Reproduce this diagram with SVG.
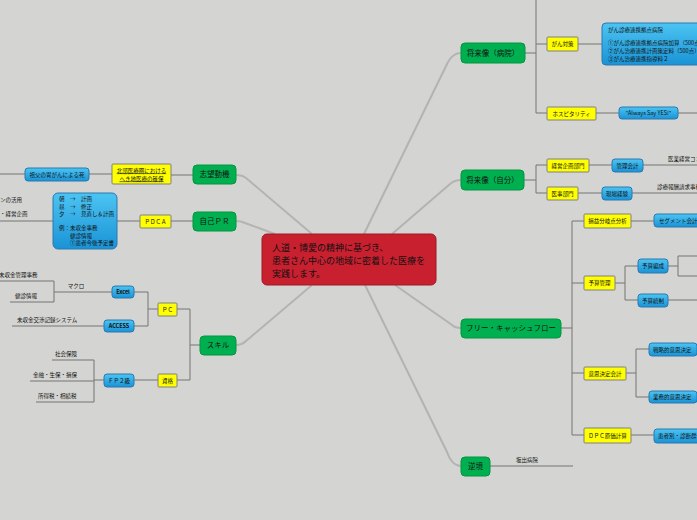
<svg xmlns="http://www.w3.org/2000/svg" width="697" height="520" viewBox="0 0 697 520">
<defs>
<linearGradient id="bg" x1="0" y1="0" x2="0" y2="1"><stop offset="0" stop-color="#4cc4f2"/><stop offset="1" stop-color="#1a93d6"/></linearGradient>
<style>
text{font-family:"Noto Sans CJK JP","Noto Sans",sans-serif;fill:#111}
.main{fill:#00b050;stroke:#00963f;stroke-width:1}
.mt{font-size:7.5px;text-anchor:middle}
.yel{fill:#ffff00;stroke:#808080;stroke-width:1}
.blue{fill:url(#bg);stroke:#2b78b0;stroke-width:1}
.s{font-size:5.5px}
.c{text-anchor:middle}
.mainline{fill:none;stroke:#b3b3b3;stroke-width:2}
.br{fill:none;stroke:#747474;stroke-width:1}
</style>
</defs>
<rect width="697" height="520" fill="#d4d5d2"/>
<g id="connectors">
<path class="mainline" d="M364,234 L448,62 Q453,53 461,53"/>
<path class="mainline" d="M392,234 L450,184 Q455,180 461,180"/>
<path class="mainline" d="M395,285 L452,325 Q455,328 461,328"/>
<path class="mainline" d="M365,285 L447,452 Q452,466 461,466"/>
<path class="mainline" d="M312,234 L246,178 Q242,175 236,175"/>
<path class="mainline" d="M275,234 L245,223 Q241,221 236,221"/>
<path class="mainline" d="M312,285 L246,341 Q242,345 236,345"/>
<path class="br" d="M525,53 H536 M536,0 V113 M536,44 H547 M536,113 H547 M578,44 H602 M596,113 H619 M678,113 H697"/>
<path class="br" d="M524,180 H536 M536,165 V193 M536,165 H547 M536,193 H547 M589,165 H612 M578,193 H602 M643,165 H697 M632,193 H697"/>
<path class="br" d="M561,328 H572 M572,221 V435 M572,221 H584 M572,283 H584 M572,373 H584 M572,435 H584 M631,221 H654 M615,283 H625 M625,266 V300 M625,266 H638 M625,300 H638 M668,266 H678 M678,256 V276 M678,256 H697 M678,276 H697 M668,300 H697 M626,373 H636 M636,349 V397 M636,349 H649 M636,397 H649 M631,435 H654"/>
<path class="br" d="M490,466 H573"/>
<path class="br" d="M193,175 H171 M112,174 H89 M25,174 H0"/>
<path class="br" d="M193,221 H171 M140,221 H117 M53,221 H0"/>
<path class="br" d="M200,345 H190 M190,309 V380 M190,309 H177 M190,380 H177 M158,309 H148 M148,292 V326 M148,292 H134 M148,326 H134 M112,292 H54 M54,281 V302 M54,281 H0 M54,302 H10 M104,326 H12 M158,380 H134 M104,380 H94 M94,360 V402 M94,360 H52 M94,381 H30 M94,402 H36"/>
</g>
<g id="center">
<rect x="262" y="234" width="174" height="51" rx="5" fill="#c8202f" stroke="#9e1a26"/>
<text x="272" y="251" style="font-size:9px">人道・博愛の精神に基づき、</text>
<text x="272" y="264" style="font-size:9px">患者さん中心の地域に密着した医療を</text>
<text x="272" y="277" style="font-size:9px">実践します。</text>
</g>
<g id="n-byoin"><rect class="main" x="461" y="43" width="64" height="20" rx="4"/><text class="mt" x="493" y="55.7">将来像（病院）</text></g>
<g id="n-jibun"><rect class="main" x="461" y="170" width="63" height="20" rx="4"/><text class="mt" x="492.5" y="182.7">将来像（自分）</text></g>
<g id="n-fcf"><rect class="main" x="461" y="319" width="100" height="19" rx="4"/><text class="mt" x="511" y="331.2">フリー・キャッシュフロー</text></g>
<g id="n-gyakkyo"><rect class="main" x="461" y="457" width="29" height="19" rx="4"/><text class="mt" x="475.5" y="469.2">逆境</text></g>
<g id="n-shibo"><rect class="main" x="193" y="165" width="43" height="19" rx="4"/><text class="mt" x="214.5" y="177.2">志望動機</text></g>
<g id="n-pr"><rect class="main" x="193" y="212" width="43" height="19" rx="4"/><text class="mt" x="214.5" y="224.2">自己ＰＲ</text></g>
<g id="n-skill"><rect class="main" x="200" y="336" width="36" height="19" rx="4"/><text class="mt" x="218" y="348.2">スキル</text></g>

<g id="n-gan"><rect class="yel" x="547" y="37" width="31" height="14" rx="1"/><text class="s c" x="562.5" y="46">がん対策</text></g>
<g id="n-gan-b"><rect class="blue" x="602" y="23" width="100" height="42" rx="4"/>
<text class="s" x="608" y="32">がん診療連携拠点病院</text>
<text class="s" x="608" y="45">①がん診療連携拠点病院加算（500点）</text>
<text class="s" x="608" y="53">②がん治療連携計画策定料（500点）</text>
<text class="s" x="608" y="61">③がん治療連携指導料２</text></g>
<g id="n-hosp"><rect class="yel" x="547" y="107" width="49" height="13" rx="1"/><text class="s c" x="571.5" y="115.5">ホスピタリティ</text></g>
<g id="n-always"><rect class="blue" x="619" y="107" width="59" height="12" rx="3"/><text class="s c" x="648.5" y="115">"Always Say YES!"</text></g>

<g id="n-keiei"><rect class="yel" x="547" y="159" width="42" height="13" rx="1"/><text class="s c" x="568" y="167.5">経営企画部門</text></g>
<g id="n-iji"><rect class="yel" x="547" y="187" width="31" height="13" rx="1"/><text class="s c" x="562.5" y="195.5">医事部門</text></g>
<g id="n-kanri"><rect class="blue" x="612" y="159" width="31" height="13" rx="3"/><text class="s c" x="627.5" y="167.5">管理会計</text></g>
<g id="n-genba"><rect class="blue" x="602" y="187" width="30" height="13" rx="3"/><text class="s c" x="617" y="195.5">現場経験</text></g>
<g id="n-consul"><text class="s" x="668" y="161">医業経営コンサルタント</text></g>
<g id="n-seikyu"><text class="s" x="657" y="189">診療報酬請求事務</text></g>

<g id="n-bep"><rect class="yel" x="584" y="214" width="47" height="14" rx="1"/><text class="s c" x="607.5" y="223">損益分岐点分析</text></g>
<g id="n-seg"><rect class="blue" x="654" y="214" width="56" height="13" rx="3"/><text class="s" x="659" y="222.5">セグメント会計</text></g>
<g id="n-yosan"><rect class="yel" x="584" y="276" width="31" height="14" rx="1"/><text class="s c" x="599.5" y="285">予算管理</text></g>
<g id="n-hensei"><rect class="blue" x="638" y="259" width="30" height="14" rx="3"/><text class="s c" x="653" y="268">予算編成</text></g>
<g id="n-tosei"><rect class="blue" x="638" y="294" width="30" height="13" rx="3"/><text class="s c" x="653" y="302.5">予算統制</text></g>
<g id="n-ishi"><rect class="yel" x="584" y="367" width="42" height="13" rx="1"/><text class="s c" x="605" y="375.5">意思決定会計</text></g>
<g id="n-senryaku"><rect class="blue" x="649" y="343" width="48" height="13" rx="3"/><text class="s" x="653" y="351.5">戦略的意思決定</text></g>
<g id="n-gyomu"><rect class="blue" x="649" y="391" width="48" height="12" rx="3"/><text class="s" x="653" y="399">業務的意思決定</text></g>
<g id="n-dpc"><rect class="yel" x="584" y="428" width="47" height="15" rx="1"/><text class="s c" x="607.5" y="437.5">ＤＰＣ原価計算</text></g>
<g id="n-kanja"><rect class="blue" x="654" y="429" width="56" height="14" rx="3"/><text class="s" x="658" y="438">患者別・診断群分類別</text></g>
<g id="n-sakaide"><text class="s c" x="527" y="462">坂出病院</text></g>

<g id="n-hokubu"><rect class="yel" x="112" y="164" width="59" height="20" rx="1"/>
<text class="s c" x="141.5" y="172.5" text-decoration="underline">北部医療圏における</text>
<text class="s c" x="141.5" y="180.5" text-decoration="underline">へき地医療の確保</text></g>
<g id="n-sofu"><rect class="blue" x="25" y="168" width="64" height="13" rx="3"/><text class="s c" x="57" y="176.5">祖父の胃がんによる死</text></g>

<g id="n-pdca"><rect class="yel" x="140" y="215" width="31" height="13" rx="1"/><text class="s c" x="155.5" y="223.5">ＰＤＣＡ</text></g>
<g id="n-pdca-b"><rect class="blue" x="53" y="193" width="64" height="56" rx="5"/>
<text class="s" x="59" y="201">朝　→　計画</text>
<text class="s" x="59" y="209">昼　→　修正</text>
<text class="s" x="59" y="216">夕　→　見直し＆計画</text>
<text class="s" x="59" y="230">例：未収金事務</text>
<text class="s" x="59" y="238">　　健診情報</text>
<text class="s" x="59" y="245">　　①患者今後予定書</text></g>
<g id="n-left1"><text class="s" x="0" y="202">ンの活用</text><text class="s" x="0" y="216">・経営企画</text></g>

<g id="n-pc"><rect class="yel" x="158" y="303" width="19" height="13" rx="1"/><text class="s c" x="167.5" y="311.5">ＰＣ</text></g>
<g id="n-shikaku"><rect class="yel" x="158" y="374" width="19" height="13" rx="1"/><text class="s c" x="167.5" y="382.5">資格</text></g>
<g id="n-excel"><rect class="blue" x="112" y="286" width="22" height="12" rx="3"/><text class="s c" x="123" y="294" font-weight="bold">Excel</text></g>
<g id="n-access"><rect class="blue" x="104" y="320" width="30" height="12" rx="3"/><text class="s c" x="119" y="328" font-weight="bold">ACCESS</text></g>
<g id="n-fp"><rect class="blue" x="104" y="374" width="30" height="13" rx="3"/><text class="s c" x="119" y="382.5">ＦＰ２級</text></g>
<g id="n-macro"><text class="s c" x="76" y="288">マクロ</text></g>
<g id="n-mishu"><text class="s" x="-1" y="277">未収金管理事務</text></g>
<g id="n-kenshin"><text class="s" x="15" y="298">健診情報</text></g>
<g id="n-koshou"><text class="s" x="17" y="322">未収金交渉記録システム</text></g>
<g id="n-shakai"><text class="s" x="55" y="356">社会保険</text></g>
<g id="n-kinyu"><text class="s" x="33" y="377">金融・生保・損保</text></g>
<g id="n-shotoku"><text class="s" x="38" y="398">所得税・相続税</text></g>
</svg>
